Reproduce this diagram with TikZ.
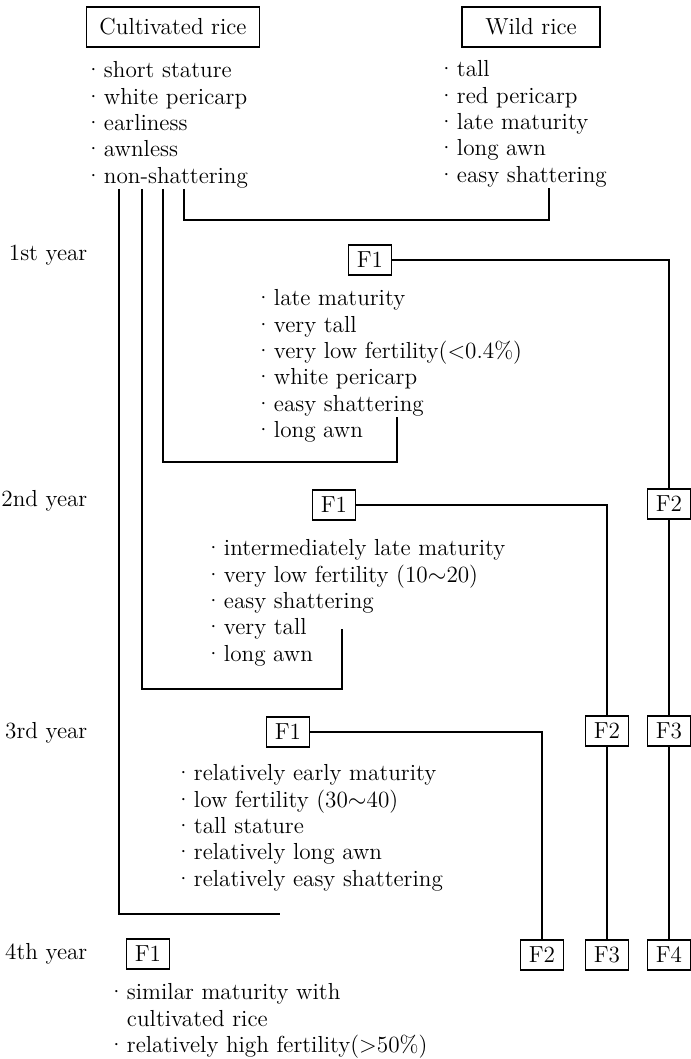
\documentclass[tikz,border=0pt]{standalone}
\newcommand{\bul}{\textperiodcentered\hspace{0.8pt}}
\begin{document}
\begin{tikzpicture}[x=0.5pt, y=-0.5pt, line width=0.7pt,
		every node/.style={font=\fontsize{11.6}{13.15}\selectfont},
		parent/.style={draw, minimum height=20pt, inner sep=0pt},
		gen/.style={draw, minimum width=21.5pt, minimum height=15pt, inner sep=0pt},
		traits/.style={align=left, anchor=north west, inner sep=0pt},
		year/.style={anchor=base east, inner sep=0pt}]
		\useasboundingbox (0,0) rectangle (690,1059);

		\node[parent, minimum width=86.5pt] (cult) at (173,27) {Cultivated rice};
		\node[parent, minimum width=69pt] (wild) at (531,27) {Wild rice};
		\node[traits] (cultlist) at (84,61) {\bul short stature\\ \bul white pericarp\\ \bul earliness\\ \bul awnless\\ \bul non-shattering};
		\node[traits] (wildlist) at (437,60) {\bul tall\\ \bul red pericarp\\ \bul late maturity\\ \bul long awn\\ \bul easy shattering};

		% years
		\node[year] (y1) at (88,260) {1st year};
		\node[year] (y2) at (88,506) {2nd year};
		\node[year] (y3) at (88,738) {3rd year};
		\node[year] (y4) at (88,959) {4th year};

		% 1st year
		\node[gen] (f1a) at (370,260) {F1};
		\node[traits] (list1) at (254,289) {\bul late maturity\\ \bul very tall\\ \bul very low fertility(<0.4\%)\\ \bul white pericarp\\ \bul easy shattering\\ \bul long awn};

		% 2nd year
		\node[gen] (f1b) at (334,505) {F1};
		\node[gen] (f2a) at (669,504) {F2};
		\node[traits] (list2) at (204,539) {\bul intermediately late maturity\\ \bul very low fertility (10$\sim$20)\\ \bul easy shattering\\ \bul very tall\\ \bul long awn};

		% 3rd year
		\node[gen] (f1c) at (288,732) {F1};
		\node[gen] (f2b) at (607,731) {F2};
		\node[gen] (f3a) at (669,731) {F3};
		\node[traits] (list3) at (174,764) {\bul relatively early maturity\\ \bul low fertility (30$\sim$40)\\ \bul tall stature\\ \bul relatively long awn\\ \bul relatively easy shattering};

		% 4th year
		\node[gen] (f1d) at (148,954) {F1};
		\node[gen] (f2c) at (542,955) {F2};
		\node[gen] (f3b) at (607,955) {F3};
		\node[gen] (f4a) at (669,955) {F4};
		\node[traits] (list4) at (107,983) {\bul similar maturity with\\ \phantom{\bul}cultivated rice\\ \bul relatively high fertility(>50\%)};

		% crossing lines
		\coordinate (c1) at (119,189);
		\coordinate (c2) at (142,189);
		\coordinate (c3) at (163,189);
		\coordinate (c4) at (184,189);
		\coordinate (w1) at (549,188);
		\coordinate (e1) at (397,417);
		\coordinate (e2) at (342,629);
		\coordinate (e3) at (280,914);

		\draw (c4) -- ++(0,31) -| (w1);
		\draw (c3) -- ++(0,273) -| (e1);
		\draw (c2) -- ++(0,500) -| (e2);
		\draw (c1) -- ++(0,725) -- (e3);

		\draw (f1a.east) -| (f2a.north);
		\draw (f1b.east) -| (f2b.north);
		\draw (f1c.east) -| (f2c.north);
		\draw (f2a) -- (f3a);
		\draw (f3a) -- (f4a);
		\draw (f2b) -- (f3b);

	\end{tikzpicture}
\end{document}
